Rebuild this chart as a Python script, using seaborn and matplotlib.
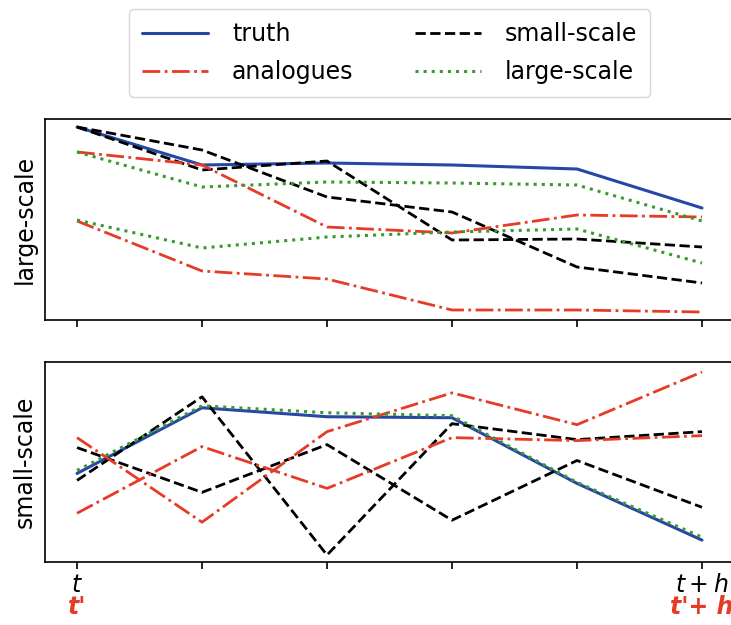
import numpy as np
import matplotlib
matplotlib.use("Agg")
import matplotlib.pyplot as plt
import seaborn as sns

steps = [0, 1, 2, 3, 4, 5]

# large-scale panel
large_truth = [193, 155, 157, 155, 151, 112]
large_small = [[193, 170, 123, 108, 53, 37],
               [193, 150, 159, 80, 81, 73]]
large_analog = [[168, 155, 93, 87, 105, 103],
                [99, 49, 41, 10, 10, 8]]
large_large = [[168, 133, 138, 137, 135, 99],
               [100, 72, 83, 88, 91, 57]]

# small-scale panel
small_truth = [89, 155, 146, 145, 79, 22]
small_small = [[115, 70, 118, 42, 102, 55],
               [82, 166, 7, 139, 123, 131]]
small_analog = [[125, 40, 131, 170, 138, 191],
                [49, 116, 74, 125, 122, 127]]
small_large = [[92, 157, 150, 147, 80, 25]]

tick_black = ["$t$", "", "", "", "", "$t+h$"]
tick_red = ["t'", "t'+ h"]

blue = "#2747a6"
red = "#e63b25"
green = "#3a9a2f"

sns.set_style("ticks", {"axes.edgecolor": "black", "text.color": "black",
                        "xtick.color": "black", "axes.labelcolor": "black"})
plt.rcParams["font.family"] = ["DejaVu Sans"]

fig = plt.figure(figsize=(7.31, 6.25), dpi=100)
ax1 = fig.add_axes([0.0616, 0.488, 0.9425, 0.3216])
ax2 = fig.add_axes([0.0616, 0.1008, 0.9425, 0.32])


def draw(ax, truth, small, analog, large):
    for i, v in enumerate(small):
        sns.lineplot(x=steps, y=v, ax=ax, color="black", linestyle="--", lw=2,
                     label="small-scale" if i == 0 else None, legend=False)
    for i, v in enumerate(analog):
        sns.lineplot(x=steps, y=v, ax=ax, color=red, linestyle="-.", lw=2,
                     label="analogues" if i == 0 else None, legend=False)
    for i, v in enumerate(large):
        sns.lineplot(x=steps, y=v, ax=ax, color=green, linestyle=":", lw=2.2,
                     label="large-scale" if i == 0 else None, legend=False)
    sns.lineplot(x=steps, y=truth, ax=ax, color=blue, lw=2.2, label="truth",
                 legend=False, zorder=1.5)
    ax.set_ylim(0, 201)
    ax.set_xlim(-0.256, 5.256)
    ax.set_yticks([])
    ax.set_xticks(steps)
    for s in ax.spines.values():
        s.set_linewidth(1.2)
    ax.tick_params(axis="x", length=5, width=1.2)


draw(ax1, large_truth, large_small, large_analog, large_large)
draw(ax2, small_truth, small_small, small_analog, small_large)

ax1.set_xticklabels([])
ax1.set_ylabel("large-scale", fontsize=17, labelpad=6)
ax2.set_ylabel("small-scale", fontsize=17, labelpad=6)
ax2.set_xticklabels(tick_black, fontsize=17)
ax2.tick_params(axis="x", pad=3)

for x, lab in zip([0, 5], tick_red):
    ax2.annotate(lab, xy=(x, 0), xycoords=("data", "axes fraction"),
                 xytext=(0, -24), textcoords="offset points", ha="center",
                 va="top", color=red, fontsize=17, fontweight="bold",
                 fontstyle="italic")

handles, labels = ax1.get_legend_handles_labels()
order = [labels.index(k) for k in ["truth", "analogues", "small-scale", "large-scale"]]
ax1.legend([handles[i] for i in order], [labels[i] for i in order], ncol=2,
           loc="lower center", bbox_to_anchor=(0.5, 1.05), fontsize=17,
           handlelength=2.8, columnspacing=2.6, borderpad=0.55, labelspacing=0.6,
           handletextpad=1.0, edgecolor="#cccccc")

fig.savefig("out.png", dpi=100)
